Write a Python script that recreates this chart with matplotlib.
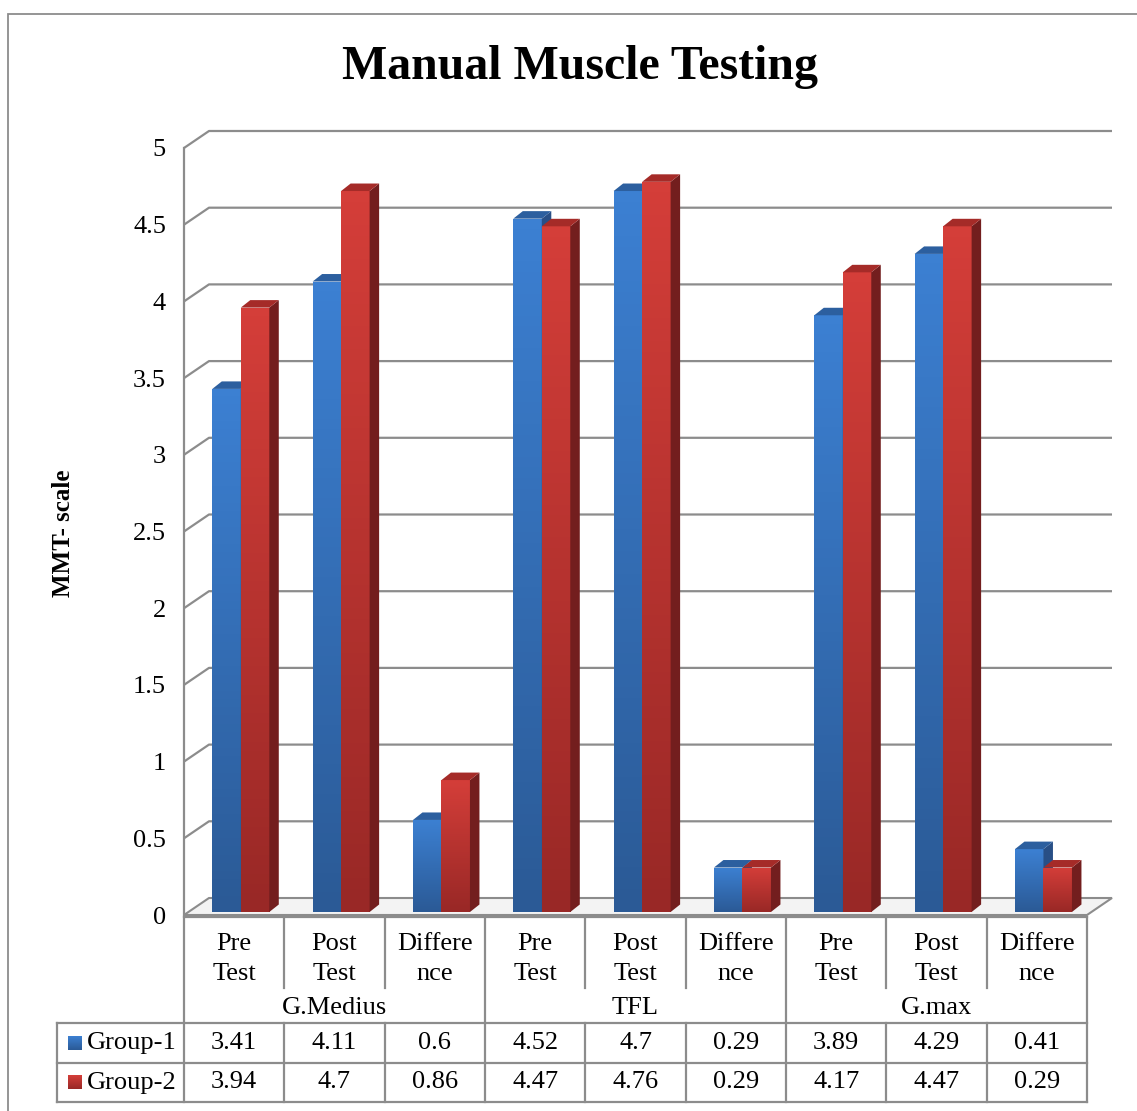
import numpy as np
import matplotlib.pyplot as plt
from matplotlib.patches import Rectangle, Polygon
from matplotlib.colors import to_rgb

###### données ######
categories = ["Pre\nTest", "Post\nTest", "Differe\nnce"] * 3
muscles = ["G.Medius", "TFL", "G.max"]
series_names = ["Group-1", "Group-2"]
group1 = [3.41, 4.11, 0.6, 4.52, 4.7, 0.29, 3.89, 4.29, 0.41]
group2 = [3.94, 4.7, 0.86, 4.47, 4.76, 0.29, 4.17, 4.47, 0.29]
yticks = [0, 0.5, 1, 1.5, 2, 2.5, 3, 3.5, 4, 4.5, 5]
ytick_labels = ["0", "0.5", "1", "1.5", "2", "2.5", "3", "3.5", "4", "4.5", "5"]

W, H = 1137, 1111
plt.rcParams['font.family'] = ['Liberation Serif', 'DejaVu Serif']
fig = plt.figure(figsize=(W / 100, H / 100), dpi=100)
fig.patch.set_facecolor('white')

GRID = '#8c8c8c'
BLUE = ('#3c80d2', '#2b5a96')
RED = ('#d43e39', '#992826')

# cadre autour du graphique
fig.add_artist(Rectangle((8 / W, -0.1), 1.2, 1 - 14 / H + 0.1, transform=fig.transFigure,
                         fill=False, edgecolor=GRID, lw=1.3))

# axe principal : x en catégories, y en unités MMT
ax = fig.add_axes([184 / W, 1 - 915 / H, 903 / W, 767 / H])
ax.set_xlim(0, 9)
ax.set_ylim(0, 5)
ux = 903 / 9      # pixels par catégorie
uy = 767 / 5      # pixels par unité
for s in ax.spines.values():
    s.set_visible(False)
ax.set_xticks([])
ax.set_yticks(yticks)
ax.set_yticklabels(ytick_labels, fontsize=19)
ax.tick_params(axis='y', length=0, pad=13)
ax.patch.set_alpha(0)

WX, WY = 25 / ux, 17 / uy      # profondeur du mur du fond
BY = 3 / uy                    # décalage des barres
DX, DY = 9.5 / ux, 7.5 / uy    # profondeur des barres
bw = 0.284
b0 = 0.282

# sol
ax.add_patch(Polygon([(0, 0), (9, 0), (9 + WX, WY), (WX, WY)], closed=True,
                     facecolor='#f3f3f3', edgecolor=GRID, lw=1.5, clip_on=False, zorder=1))

# grille sur le mur du fond + mur gauche
for v in yticks[1:]:
    ax.plot([0, WX, 9 + WX], [v, v + WY, v + WY], color=GRID, lw=1.6,
            clip_on=False, zorder=0.5, solid_capstyle='butt')
ax.plot([0, 0], [0, 5], color=GRID, lw=1.6, clip_on=False, zorder=0.5)


def vgrad(top, bottom, n=64):
    t, b = np.array(to_rgb(top)), np.array(to_rgb(bottom))
    k = np.linspace(0, 1, n)[:, None, None]
    return t * (1 - k) + b * k


def gradient_bar(x, v, cols, side, roof, z):
    # face avant avec dégradé vertical
    face = Rectangle((x, BY), bw, v, facecolor='none', edgecolor='none', zorder=z)
    ax.add_patch(face)
    im = ax.imshow(vgrad(*cols), extent=[x, x + bw, BY, BY + v], origin='upper',
                   aspect='auto', zorder=z)
    im.set_clip_path(face)
    # côté droit
    ax.add_patch(Polygon([(x + bw, BY), (x + bw + DX, BY + DY),
                          (x + bw + DX, BY + v + DY), (x + bw, BY + v)],
                         closed=True, facecolor=side, edgecolor='none',
                         clip_on=False, zorder=z))
    # dessus
    ax.add_patch(Polygon([(x, BY + v), (x + bw, BY + v),
                          (x + bw + DX, BY + v + DY), (x + DX, BY + v + DY)],
                         closed=True, facecolor=roof, edgecolor='none',
                         clip_on=False, zorder=z))


for i in range(9):
    gradient_bar(i + b0, group1[i], BLUE, '#284f86', '#2c5f9f', 2 + i * 0.1)
    gradient_bar(i + b0 + bw, group2[i], RED, '#731e1e', '#a52b28', 2.05 + i * 0.1)

ax.set_xlim(0, 9)
ax.set_ylim(0, 5)

# titre et axe y
fig.text(580 / W, 1 - 67 / H, "Manual Muscle Testing", ha='center', va='center',
         fontsize=34.5, fontweight='bold')
fig.text(63 / W, 1 - 533 / H, "MMT- scale", ha='center', va='center', rotation=90,
         fontsize=18, fontweight='bold')

# tableau de données
tab = fig.add_axes([57 / W, 1 - 1103 / H, (1087 - 57) / W, (1103 - 917) / H])
left = -(184 - 57) / ux
tab.set_xlim(left, 9)
tab.set_ylim(186, 0)
tab.axis('off')
rows = [0, 71, 106, 146, 185]
lk = dict(color=GRID, lw=1.6, clip_on=False, solid_capstyle='projecting')

tab.plot([0, 9], [rows[0], rows[0]], **lk)
for r in rows[2:]:
    tab.plot([left, 9], [r, r], **lk)
tab.plot([0, 0], [rows[0], rows[4]], **lk)
tab.plot([9, 9], [rows[0], rows[4]], **lk)
tab.plot([left, left], [rows[2], rows[4]], **lk)
for c in range(1, 9):
    if c % 3 == 0:
        tab.plot([c, c], [rows[0], rows[4]], **lk)
    else:
        tab.plot([c, c], [rows[0], rows[1]], **lk)
        tab.plot([c, c], [rows[2], rows[4]], **lk)

fs = 19
for i, lab in enumerate(categories):
    tab.text(i + 0.5, 42, lab, ha='center', va='center', fontsize=fs, linespacing=1.5)
for j, m in enumerate(muscles):
    tab.text(3 * j + 1.5, 91, m, ha='center', va='center', fontsize=fs)

for r, (name, vals, cols) in enumerate(zip(series_names, [group1, group2], [BLUE, RED])):
    yc = (rows[2 + r] + rows[3 + r]) / 2
    key = tab.imshow(vgrad(*cols), extent=[left + 11 / ux, left + 25 / ux, yc + 7, yc - 7],
                     origin='upper', aspect='auto')
    tab.text(left + 30 / ux, yc, name, ha='left', va='center', fontsize=fs)
    for i, v in enumerate(vals):
        tab.text(i + 0.5, yc, str(v), ha='center', va='center', fontsize=fs)

tab.set_xlim(left, 9)
tab.set_ylim(186, 0)

fig.savefig("out.png", dpi=100, facecolor='white')
